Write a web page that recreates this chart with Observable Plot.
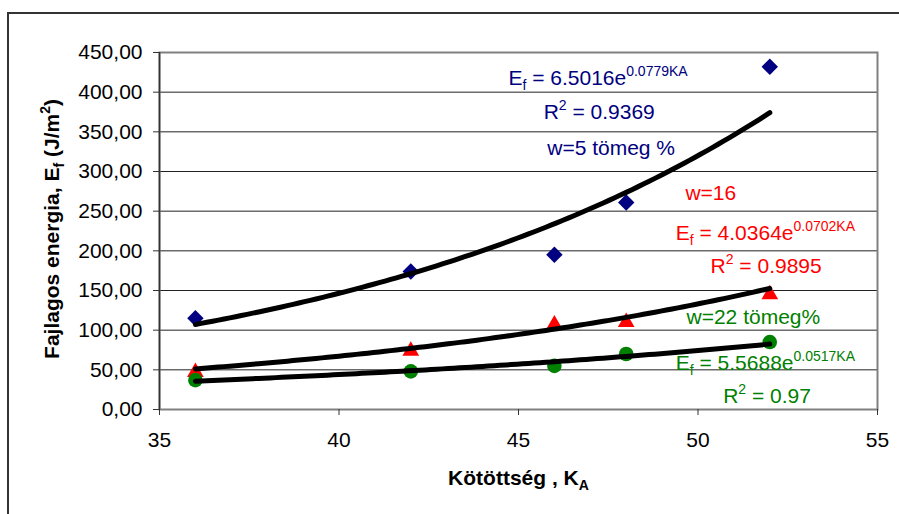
<!DOCTYPE html>
<html><head><meta charset="utf-8">
<script src="https://cdn.jsdelivr.net/npm/d3@7"></script>
<script src="https://cdn.jsdelivr.net/npm/@observablehq/plot@0.6"></script>
<style>
body{margin:0;background:#fff;}
#wrap{position:relative;width:899px;height:514px;overflow:hidden;background:#fff;}
#wrap svg{position:absolute;left:0;top:0;}
#border{position:absolute;left:7px;top:12px;width:1200px;height:1200px;border-left:2px solid #333;border-top:2px solid #333;pointer-events:none;}
</style></head><body><div id="wrap"><div id="border"></div></div>
<script>
// ---- data ----
const kA   = [36, 42, 46, 48, 52];
const w5   = [115, 174, 195, 261, 432];
const w16  = [50, 77, 110, 113, 148];
const w22  = [37, 48, 55, 70, 85];
const seriesNames  = ["w=5 tömeg %", "w=16", "w=22 tömeg%"];
const seriesColors = ["#000080", "#ff0000", "#008000"];
const seriesSymbols = ["diamond2", "triangle", "circle"];
const xTicks = [35, 40, 45, 50, 55];
const yTicks = [0, 50, 100, 150, 200, 250, 300, 350, 400, 450];
// text annotations (markup: ^{..} superscript, _{..} subscript)
const annLabels = [
  "E_{f} = 6.5016e^{0.0779KA}", "R^{2} = 0.9369", "w=5 tömeg %",
  "w=16", "E_{f} = 4.0364e^{0.0702KA}", "R^{2} = 0.9895",
  "w=22 tömeg%", "E_{f} = 5.5688e^{0.0517KA}", "R^{2} = 0.97"
];
const annX = [44.72, 45.70, 45.80, 49.65, 49.38, 50.35, 49.68, 49.38, 50.70];
const annY = [418, 375, 329, 273, 222, 180, 116, 58, 17];
const annSeries = [0, 0, 0, 1, 1, 1, 2, 2, 2];
const xTitle = "Kötöttség , K_{A}";
const yTitle = "Fajlagos energia, E_{f} (J/m^{2})";

// ---- build tables ----
const seriesY = [w5, w16, w22];
const points = seriesY.flatMap((ys, s) => ys.map((y, i) => ({x: kA[i], y, s})));
// exponential least-squares trendline (fit of ln y on x), like the spreadsheet trendline
function expFit(xs, ys) {
  const ly = ys.map(Math.log);
  const mx = d3.mean(xs), my = d3.mean(ly);
  const b = d3.sum(xs, (x, i) => (x - mx) * (ly[i] - my)) / d3.sum(xs, x => (x - mx) ** 2);
  const a = Math.exp(my - b * mx);
  return {a, b};
}
const trend = seriesY.flatMap((ys, s) => {
  const {a, b} = expFit(kA, ys);
  return d3.range(0, 101).map(k => {
    const x = kA[0] + (kA[kA.length - 1] - kA[0]) * k / 100;
    return {x, y: a * Math.exp(b * x), s};
  });
});
const ann = annLabels.map((t, i) => ({t, x: annX[i], y: annY[i], c: seriesColors[annSeries[i]]}));

const fmt = d => d3.format(".2f")(d).replace(".", ",");

const chart = Plot.plot({
  width: 899, height: 514,
  marginLeft: 159, marginRight: 22, marginTop: 52, marginBottom: 105,
  style: {fontFamily: "'Liberation Sans', Arial, sans-serif", fontSize: "21px", color: "#000", background: "transparent", overflow: "visible"},
  x: {domain: [35, 55]},
  y: {domain: [0, 450]},
  marks: [
    Plot.gridY(yTicks, {stroke: "#222", strokeOpacity: 1, strokeWidth: 1}),
    Plot.frame({stroke: "#808080", strokeWidth: 2}),
    Plot.ruleX([35], {stroke: "#333", strokeWidth: 1.5}),
    Plot.axisY({ticks: yTicks, tickFormat: fmt, tickSize: 6, tickPadding: 11, label: null, stroke: "#333", fontSize: 21}),
    Plot.axisX({ticks: xTicks, tickSize: 6, tickPadding: 17, label: null, stroke: "#333", fontSize: 21}),
    Plot.dot(points.filter(d => d.s === 0), {x: "x", y: "y", symbol: () => seriesSymbols[0], fill: seriesColors[0], r: 7.4, stroke: "none"}),
    Plot.dot(points.filter(d => d.s === 1), {x: "x", y: "y", symbol: () => seriesSymbols[1], fill: seriesColors[1], r: 6.2, dy: 2.4, stroke: "none"}),
    Plot.dot(points.filter(d => d.s === 2), {x: "x", y: "y", symbol: () => seriesSymbols[2], fill: seriesColors[2], r: 7.3, stroke: "none"}),
    Plot.line(trend, {x: "x", y: "y", z: "s", stroke: "#000", strokeWidth: 5, strokeLinecap: "round"}),
    Plot.text(ann, {x: "x", y: "y", text: "t", fill: "c", textAnchor: "start", lineAnchor: "middle", fontSize: 21}),
    Plot.text([xTitle], {frameAnchor: "bottom", dy: 69, textAnchor: "middle", lineAnchor: "middle", fontWeight: "bold", fontSize: 21}),
    Plot.text([yTitle], {frameAnchor: "left", dx: -107, dy: -2, rotate: -90, textAnchor: "middle", lineAnchor: "middle", fontWeight: "bold", fontSize: 21})
  ]
});

// convert ^{..} / _{..} markup into real tspans
d3.select(chart).selectAll("text").each(function() {
  const s = this.textContent;
  if (!/[\^_]\{/.test(s)) return;
  const el = d3.select(this);
  el.text(null);
  const re = /([\^_])\{([^}]*)\}/g;
  let last = 0, m, cur = 0;
  const add = (str, off, small) => {
    if (!str) return;
    const t = el.append("tspan").text(str).attr("dy", off - cur);
    if (small) t.attr("font-size", 14);
    cur = off;
  };
  while ((m = re.exec(s))) {
    add(s.slice(last, m.index), 0, false);
    add(m[2], m[1] === "^" ? -9 : 5, true);
    last = re.lastIndex;
  }
  add(s.slice(last), 0, false);
});

document.getElementById("wrap").appendChild(chart);
</script>
</body></html>
